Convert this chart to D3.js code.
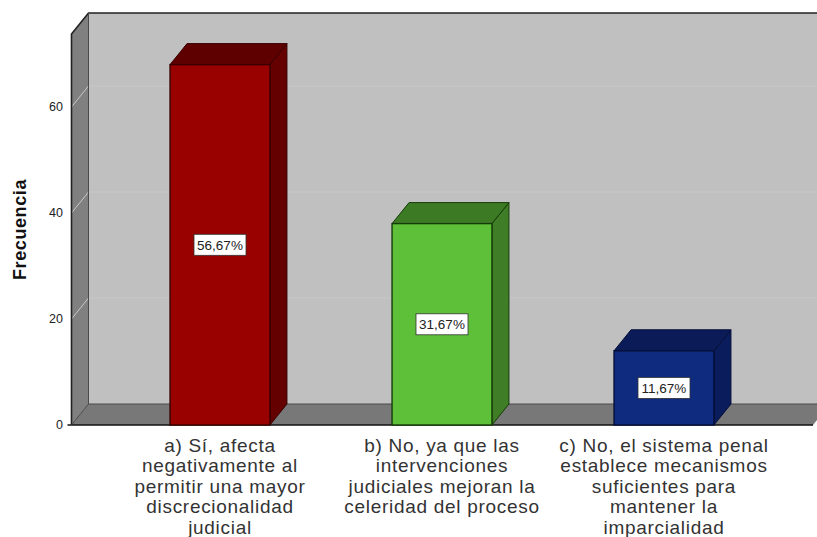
<!DOCTYPE html>
<html>
<head>
<meta charset="utf-8">
<script src="https://cdn.jsdelivr.net/npm/d3@7"></script>
<style>
  html, body { margin: 0; padding: 0; background: #fff; overflow: hidden; }
  text { font-family: "Liberation Sans", Arial, sans-serif; }
</style>
</head>
<body>
<div id="chart"></div>
<script>
const categories = ['a', 'b', 'c']
const frequencies = [68, 38, 14]
const percentLabels = ['56,67%', '31,67%', '11,67%']
const categoryLines = [
  ['a) Sí, afecta', 'negativamente al', 'permitir una mayor', 'discrecionalidad', 'judicial'],
  ['b) No, ya que las', 'intervenciones', 'judiciales mejoran la', 'celeridad del proceso'],
  ['c) No, el sistema penal', 'establece mecanismos', 'suficientes para', 'mantener la', 'imparcialidad']
]
const yTicks = [0, 20, 40, 60]
const frontColors = ['#990000', '#5ec038', '#0f2b80']
const topColors = ['#5e0000', '#3c7a24', '#0a1b58']
const sideColors = ['#640000', '#3f7d26', '#0a1c5c']
const edgeColors = ['#3a0000', '#143c08', '#050f38']

const width = 817
const height = 537
const depth = { x: 17, y: -21 }
const plot = { left: 71.5, right: 813, bottom: 425, top: 34 }

const svg = d3.select('#chart').append('svg')
  .attr('width', width)
  .attr('height', height)
  .style('display', 'block')

const yScale = d3.scaleLinear().domain([0, 60]).range([plot.bottom, 107])
const xScale = d3.scaleBand()
  .domain(categories)
  .range([109, 775])
  .paddingInner(0.55)
  .paddingOuter(0.275)

const pts = a => a.map(p => p.join(',')).join(' ')
const back = (x, y) => [x + depth.x, y + depth.y]

// walls
const walls = svg.append('g')
walls.append('polygon')
  .attr('points', pts([back(plot.left, plot.top), back(plot.right, plot.top), back(plot.right, plot.bottom), back(plot.left, plot.bottom)]))
  .attr('fill', '#c0c0c0')
walls.append('polygon')
  .attr('points', pts([[plot.left, plot.top], back(plot.left, plot.top), back(plot.left, plot.bottom), [plot.left, plot.bottom]]))
  .attr('fill', '#808080')
walls.append('polygon')
  .attr('points', pts([[plot.left, plot.bottom], back(plot.left, plot.bottom), back(plot.right, plot.bottom), [plot.right, plot.bottom]]))
  .attr('fill', '#787878')

// grid lines, on the back wall and running down the left wall
walls.selectAll('.grid')
  .data(yTicks.slice(1))
  .join('polyline')
  .attr('class', 'grid')
  .attr('fill', 'none')
  .attr('stroke', '#c8c8c8')
  .attr('stroke-width', 1)
  .attr('points', d => pts([[plot.left, yScale(d)], back(plot.left, yScale(d)), back(plot.right, yScale(d))]))

// wall outlines
walls.append('polyline')
  .attr('fill', 'none')
  .attr('stroke', '#222')
  .attr('stroke-width', 1.6)
  .attr('points', pts([[plot.left, plot.bottom], [plot.left, plot.top], back(plot.left, plot.top), back(plot.right, plot.top)]))
walls.append('polyline')
  .attr('fill', 'none')
  .attr('stroke', '#4a4a4a')
  .attr('stroke-width', 1)
  .attr('points', pts([back(plot.left, plot.top), back(plot.left, plot.bottom), back(plot.right, plot.bottom)]))
walls.append('line')
  .attr('x1', plot.left - 4).attr('x2', plot.right)
  .attr('y1', plot.bottom).attr('y2', plot.bottom)
  .attr('stroke', '#111')
  .attr('stroke-width', 1.6)
walls.append('line')
  .attr('x1', back(plot.left, plot.bottom)[0]).attr('x2', plot.left)
  .attr('y1', back(plot.left, plot.bottom)[1]).attr('y2', plot.bottom)
  .attr('stroke', '#4a4a4a')

// y axis labels
svg.append('g').selectAll('text')
  .data(yTicks)
  .join('text')
  .attr('x', 63)
  .attr('y', d => yScale(d))
  .attr('dy', '0.35em')
  .attr('text-anchor', 'end')
  .attr('font-size', 12.5)
  .attr('fill', '#222')
  .text(d => d)

svg.append('text')
  .attr('transform', 'translate(26,229.5) rotate(-90)')
  .attr('text-anchor', 'middle')
  .attr('font-size', 18)
  .attr('font-weight', 'bold')
  .attr('letter-spacing', 0.6)
  .attr('fill', '#111')
  .text('Frecuencia')

// bars
const bars = svg.append('g').selectAll('g')
  .data(categories)
  .join('g')

bars.each(function (c, i) {
  const g = d3.select(this)
  const x0 = xScale(c)
  const x1 = x0 + xScale.bandwidth()
  const y0 = yScale(frequencies[i])
  const y1 = yScale(0)
  const edge = edgeColors[i]

  g.append('polygon')
    .attr('points', pts([[x1, y0], back(x1, y0), back(x1, y1), [x1, y1]]))
    .attr('fill', sideColors[i])
    .attr('stroke', edge)
  g.append('polygon')
    .attr('points', pts([[x0, y0], back(x0, y0), back(x1, y0), [x1, y0]]))
    .attr('fill', topColors[i])
    .attr('stroke', edge)
  g.append('rect')
    .attr('x', x0)
    .attr('y', y0)
    .attr('width', x1 - x0)
    .attr('height', y1 - y0)
    .attr('fill', frontColors[i])
    .attr('stroke', edge)
    .attr('stroke-width', 1.4)

  // percent box in the middle of the bar
  const cx = (x0 + x1) / 2
  const cy = yScale(frequencies[i] / 2)
  g.append('rect')
    .attr('x', cx - 26)
    .attr('y', cy - 10.5)
    .attr('width', 52)
    .attr('height', 21)
    .attr('fill', '#fff')
    .attr('stroke', '#333')
    .attr('stroke-width', 0.8)
  g.append('text')
    .attr('x', cx)
    .attr('y', cy)
    .attr('dy', '0.35em')
    .attr('text-anchor', 'middle')
    .attr('font-size', 13.5)
    .attr('fill', '#222')
    .text(percentLabels[i])
})

// category labels
svg.append('g').selectAll('text')
  .data(categories)
  .join('text')
  .attr('text-anchor', 'middle')
  .attr('font-size', 19)
  .attr('letter-spacing', 0.7)
  .attr('fill', '#333')
  .each(function (c, i) {
    d3.select(this).selectAll('tspan')
      .data(categoryLines[i])
      .join('tspan')
      .attr('x', xScale(c) + xScale.bandwidth() / 2)
      .attr('y', (d, j) => 451.5 + j * 20.6)
      .text(d => d)
  })
</script>
</body>
</html>
